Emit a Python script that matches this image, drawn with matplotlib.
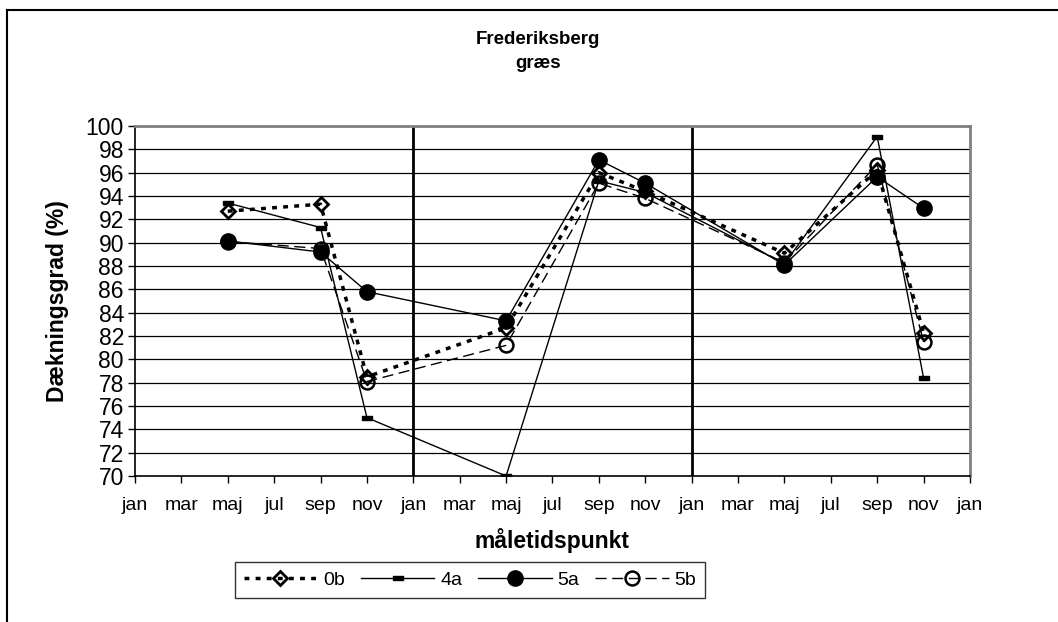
import matplotlib
matplotlib.use("Agg")
import matplotlib.pyplot as plt
from matplotlib.path import Path
from matplotlib.lines import Line2D

plt.rcParams['font.family'] = ['Liberation Sans', 'DejaVu Sans']

# month index (0 = jan first year) of each measurement
maaned = [4, 8, 10, 16, 20, 22, 28, 32, 34]

serie_0b = [92.7, 93.3, 78.5, 82.7, 96.0, 94.4, 89.1, 96.2, 82.3]
serie_4a = [93.4, 91.3, 75.0, 70.0, 95.3, 94.3, 88.2, 99.1, 78.4]
serie_5a = [90.15, 89.2, 85.8, 83.3, 97.1, 95.1, 88.1, 95.65, 92.95]
serie_5b = [90.1, 89.5, 78.1, 81.2, 95.1, 93.8, 88.3, 96.7, 81.5]

month_labels = ['jan', 'mar', 'maj', 'jul', 'sep', 'nov'] * 3 + ['jan']
aar_skift = [12, 24]

fig = plt.figure(figsize=(10.58, 6.22), dpi=100)
ax = fig.add_axes([0.1276, 0.2347, 0.7892, 0.5627])

# frame around the chart (only top and left visible)
fig.add_artist(Line2D([7 / 1058, 7 / 1058], [0, 1 - 10 / 622],
                      transform=fig.transFigure, color='black', lw=1.5))
fig.add_artist(Line2D([7 / 1058, 1], [1 - 10 / 622, 1 - 10 / 622],
                      transform=fig.transFigure, color='black', lw=1.5))

for yv in range(72, 100, 2):
    ax.axhline(yv, color='black', lw=0.9, zorder=1)
for xv in aar_skift:
    ax.axvline(xv, color='black', lw=2.0, zorder=1)

rect = Path([[-1, -0.35], [1, -0.35], [1, 0.35], [-1, 0.35], [-1, -0.35]],
            [Path.MOVETO, Path.LINETO, Path.LINETO, Path.LINETO, Path.CLOSEPOLY])

ax.plot(maaned, serie_0b, color='black', lw=2.5, ls=(0, (1.4, 1.8)),
        marker='D', ms=7.5, mfc='none', mec='black', mew=2, label='0b', zorder=3)
ax.plot(maaned, serie_4a, color='black', lw=1.0, ls='-',
        marker=rect, ms=7, mfc='black', mec='black', label='4a', zorder=3)
ax.plot(maaned, serie_5a, color='black', lw=1.0, ls='-',
        marker='o', ms=11, mfc='black', mec='black', label='5a', zorder=3)
ax.plot(maaned, serie_5b, color='black', lw=1.0, ls=(0, (8, 4)),
        marker='o', ms=10, mfc='none', mec='black', mew=1.8, label='5b', zorder=4)

ax.set_xlim(0, 36)
ax.set_ylim(70, 100)
ax.set_xticks(range(0, 37, 2))
ax.set_xticklabels(month_labels, fontsize=14)
ax.set_yticks(range(70, 101, 2))
ax.tick_params(axis='y', labelsize=16.5, length=5, width=1, direction='out', pad=3)
ax.tick_params(axis='x', length=5, width=1, direction='out', pad=10)

for side in ['top', 'right']:
    ax.spines[side].set_color('#808080')
    ax.spines[side].set_linewidth(2)
for side in ['left', 'bottom']:
    ax.spines[side].set_color('black')
    ax.spines[side].set_linewidth(1.2)

ax.set_ylabel('Dækningsgrad (%)', fontsize=16.5, fontweight='bold')
ax.yaxis.set_label_coords(-0.079, 0.5)
ax.set_xlabel('måletidspunkt', fontsize=16.5, fontweight='bold', labelpad=10)

fig.text(538 / 1058, 1 - 40 / 622, 'Frederiksberg', ha='center', va='center',
         fontsize=13.5, fontweight='bold')
fig.text(538 / 1058, 1 - 63 / 622, 'græs', ha='center', va='center',
         fontsize=13.5, fontweight='bold')

leg = ax.legend(loc='center', bbox_to_anchor=(470 / 1058, 1 - 580 / 622),
                bbox_transform=fig.transFigure, ncol=4, fontsize=14,
                frameon=True, fancybox=False, handlelength=3.8,
                handletextpad=0.3, columnspacing=0.8, borderpad=0.45,
                borderaxespad=0)
leg.get_frame().set_edgecolor('black')
leg.get_frame().set_linewidth(1.0)

fig.savefig('out.png', dpi=100)
